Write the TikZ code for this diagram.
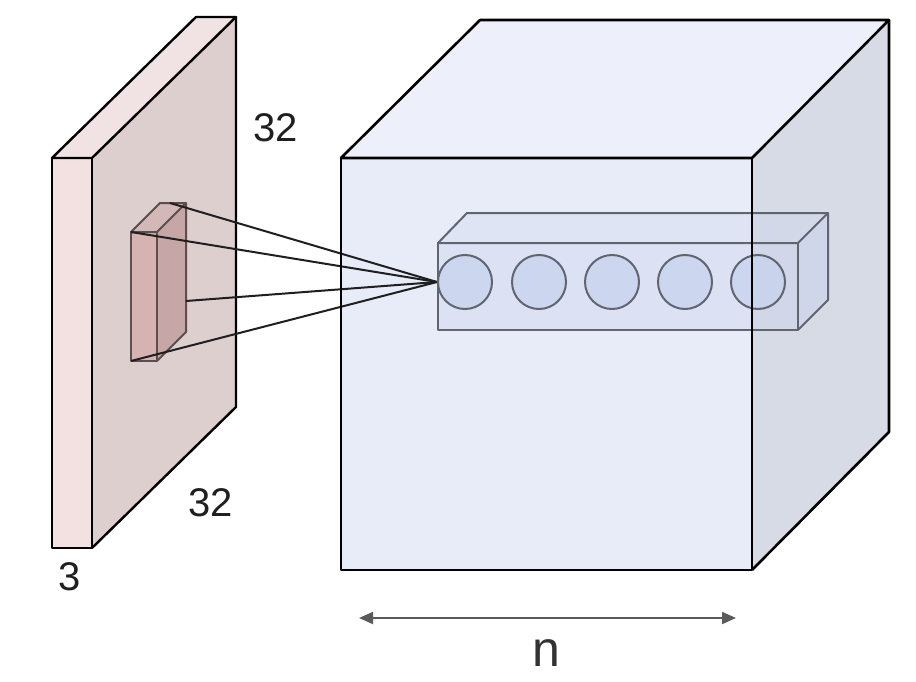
\documentclass[tikz,border=0pt]{standalone}
\usepackage{fontspec}
\setmainfont{Liberation Sans}
\usetikzlibrary{arrows.meta}
\definecolor{slabfront}{RGB}{243,224,224}
\definecolor{slabtop}{RGB}{241,227,227}
\definecolor{slabside}{RGB}{222,207,207}
\definecolor{smallfront}{RGB}{214,178,178}
\definecolor{smallside}{RGB}{198,166,166}
\definecolor{smalltop}{RGB}{212,184,184}
\definecolor{smalledge}{RGB}{90,78,78}
\definecolor{cubefront}{RGB}{232,236,248}
\definecolor{cubetop}{RGB}{237,240,250}
\definecolor{cubeside}{RGB}{215,219,230}
\definecolor{rowfill}{RGB}{200,210,238}
\definecolor{rowedge}{RGB}{95,102,112}
\definecolor{arrowgray}{RGB}{90,90,90}
\tikzset{
  slabedge/.style={draw=black,line width=2.4pt,line join=round},
  smallbox/.style={draw=smalledge,line width=2pt,line join=round},
  cubeedge/.style={draw=black,line width=2.6pt,line join=round},
  rowbox/.style={draw=rowedge,line width=2pt,line join=round},
  neuron/.style={circle,draw=rowedge,line width=2pt,fill=rowfill,fill opacity=0.75,draw opacity=1,minimum size=54pt,inner sep=0pt},
  ray/.style={draw=black!88,line width=2pt},
  lbl/.style={font=\fontsize{40}{40}\selectfont,text=black!88,inner sep=0pt},
}
\begin{document}
\begin{tikzpicture}[x=1pt,y=-1pt]
\useasboundingbox (0,0) rectangle (916,682);
% ---------- left slab ----------
\coordinate (sA) at (52,158);
\coordinate (sB) at (92,158);
\coordinate (sC) at (92,548);
\coordinate (sD) at (52,548);
\coordinate (sE) at (196,17);
\coordinate (sF) at (236,17);
\coordinate (sG) at (236,407);
\fill[slabside] (sB) -- (sF) -- (sG) -- (sC) -- cycle;
\fill[slabtop] (sA) -- (sE) -- (sF) -- (sB) -- cycle;
\fill[slabfront] (sA) rectangle (sC);
\draw[slabedge] (sA) -- (sE) -- (sF) -- (sB) -- cycle;
\draw[slabedge] (sA) rectangle (sC);
\draw[slabedge] (sF) -- (sG) -- (sC);
% ---------- small receptive cube ----------
\coordinate (kA) at (131,232);
\coordinate (kB) at (157,232);
\coordinate (kC) at (157,361);
\coordinate (kD) at (131,361);
\coordinate (kE) at (160,203);
\coordinate (kF) at (186,203);
\coordinate (kG) at (186,332);
\fill[smallside] (kB) -- (kF) -- (kG) -- (kC) -- cycle;
\fill[smalltop] (kA) -- (kE) -- (kF) -- (kB) -- cycle;
\fill[smallfront] (kA) rectangle (kC);
\draw[smallbox] (kA) -- (kE) -- (kF) -- (kB) -- cycle;
\draw[smallbox] (kA) rectangle (kC);
\draw[smallbox] (kF) -- (kG) -- (kC);
% ---------- big cube faces ----------
\coordinate (bA) at (341,158);
\coordinate (bB) at (752,158);
\coordinate (bC) at (752,570);
\coordinate (bD) at (341,570);
\coordinate (bE) at (480,20);
\coordinate (bF) at (889,20);
\coordinate (bG) at (889,432);
\fill[cubeside] (bB) -- (bF) -- (bG) -- (bC) -- cycle;
\fill[cubetop] (bA) -- (bE) -- (bF) -- (bB) -- cycle;
\fill[cubefront] (bA) rectangle (bC);
% ---------- rays ----------
\coordinate (focus) at (437,282);
\coordinate (kR) at (186,301);
\coordinate (kT) at (170,203);
\draw[ray] (kT) -- (focus);
\draw[ray] (kA) -- (focus);
\draw[ray] (kR) -- (focus);
\draw[ray] (kD) -- (focus);
% ---------- row of neurons ----------
\coordinate (rA) at (438,243);
\coordinate (rB) at (798,243);
\coordinate (rC) at (798,330);
\coordinate (rD) at (438,330);
\coordinate (rE) at (467,213);
\coordinate (rF) at (828,213);
\coordinate (rG) at (828,300);
\fill[rowfill,opacity=0.45] (rB) -- (rF) -- (rG) -- (rC) -- cycle;
\fill[rowfill,opacity=0.3] (rA) -- (rE) -- (rF) -- (rB) -- cycle;
\fill[rowfill,opacity=0.35] (rA) rectangle (rC);
\draw[rowbox] (rA) -- (rE) -- (rF) -- (rB) -- cycle;
\draw[rowbox] (rA) rectangle (rC);
\draw[rowbox] (rF) -- (rG) -- (rC);
\node[neuron] (n1) at (465,282) {};
\node[neuron] (n2) at (539,282) {};
\node[neuron] (n3) at (612,282) {};
\node[neuron] (n4) at (685,282) {};
\node[neuron] (n5) at (758,282) {};
% ---------- big cube edges ----------
\draw[cubeedge] (bA) -- (bE) -- (bF) -- (bB) -- cycle;
\draw[cubeedge] (bA) rectangle (bC);
\draw[cubeedge] (bF) -- (bG) -- (bC);
% ---------- labels ----------
\node[lbl] (l32a) at (276,128) {32};
\node[lbl] (l32b) at (211,503) {32};
\node[lbl] (l3) at (70,577) {3};
\coordinate (arL) at (359,618);
\coordinate (arR) at (736,618);
\draw[draw=arrowgray,line width=2pt,{Triangle[length=14pt,width=12pt]}-{Triangle[length=14pt,width=12pt]}] (arL) -- (arR);
\node[lbl,text=black!80,font=\fontsize{50}{50}\selectfont] (nl) at (546,653) {n};
\end{tikzpicture}
\end{document}
